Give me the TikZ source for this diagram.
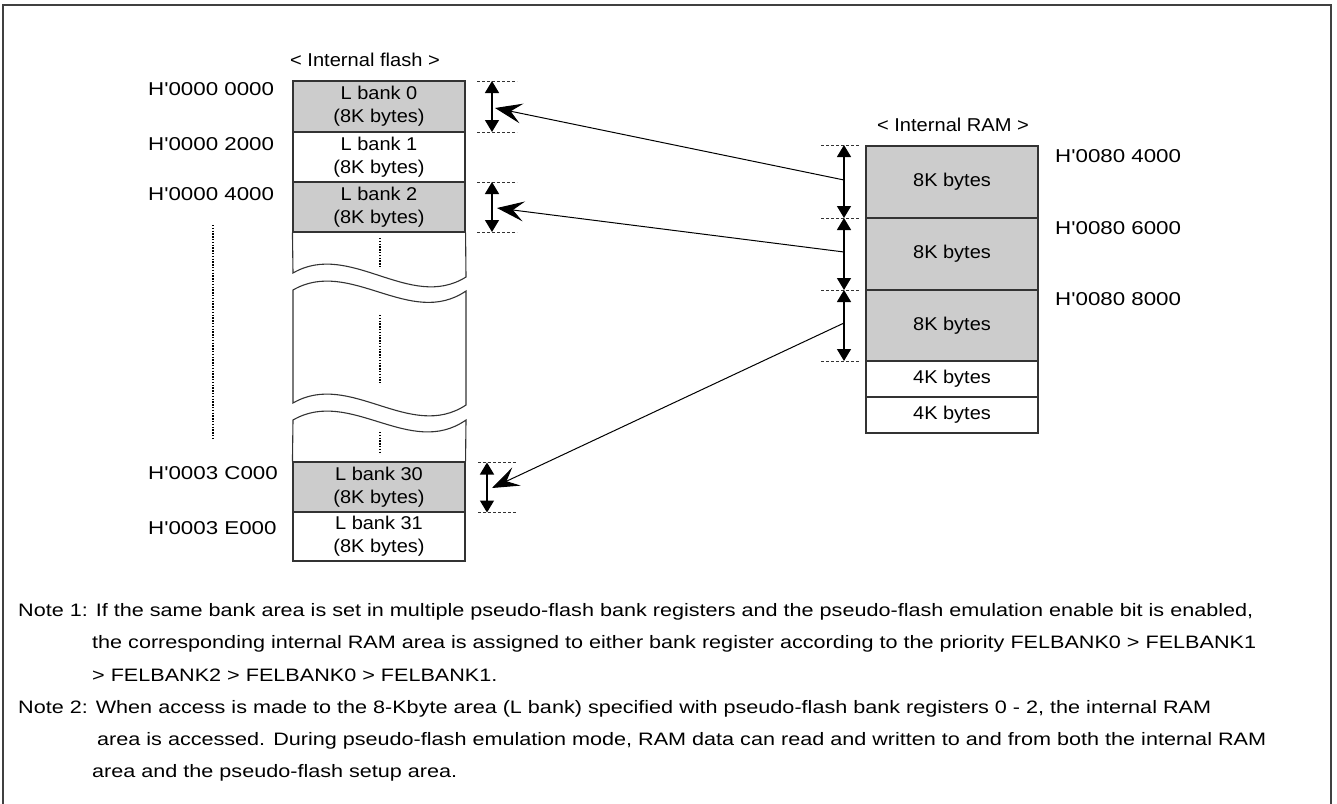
\documentclass[tikz,border=0pt]{standalone}
\usepackage{fontspec}
\setmainfont{Liberation Sans}
\newfontfamily\addrfont[FakeStretch=1.2]{Liberation Sans}
\newfontfamily\cellfont[FakeStretch=1.08]{Liberation Sans}
\usetikzlibrary{arrows.meta}
\definecolor{bankgray}{HTML}{CCCCCC}
\definecolor{edge}{HTML}{333333}

\begin{document}
\begin{tikzpicture}[x=1pt,y=-1pt,
  cell/.style={draw=edge, line width=1.1pt, minimum width=172pt, inner sep=0pt,
    align=center, font=\cellfont\fontsize{18.5}{23}\selectfont},
  flashcell/.style={cell, minimum height=50pt},
  addr/.style={anchor=base west, inner sep=0pt, font=\addrfont\fontsize{18.6}{22}\selectfont},
  header/.style={inner sep=0pt, font=\cellfont\fontsize{18.6}{22}\selectfont},
  note/.style={anchor=base west, inner sep=0pt, font=\addrfont\fontsize{18}{22}\selectfont},
  dimdash/.style={draw=edge, line width=0.9pt, dash pattern=on 3pt off 2pt},
  dimarrow/.style={line width=1.3pt,
    {Triangle[length=12pt,width=14pt]}-{Triangle[length=12pt,width=14pt]}},
  maparrow/.style={line width=1pt, -{Stealth[length=27pt,width=20pt,inset=11pt]}},
  gapdots/.style={line width=1.6pt, dash pattern=on 1.4pt off 1.4pt},
  wave/.style={draw=edge, line width=1.1pt}
]
\useasboundingbox (0,0) rectangle (1337,803);

% outer frame
\draw[line width=1.6pt, draw=black!75] (3,5) rectangle (1331,815);

% ---------------- internal flash ----------------
\node[header] (flashhead) at (365,60) {< Internal flash >};

\node[flashcell, fill=bankgray, minimum height=51pt] (lb0) at (379,106.5) {L bank 0\\(8K bytes)};
\node[flashcell] (lb1) at (379,157) {L bank 1\\(8K bytes)};
\node[flashcell, fill=bankgray] (lb2) at (379,207) {L bank 2\\(8K bytes)};
\node[flashcell, fill=bankgray] (lb30) at (379,487) {L bank 30\\(8K bytes)};
\node[flashcell, minimum height=49pt] (lb31) at (379,536.5) {L bank 31\\(8K bytes)};

% broken middle part of the flash map
\draw[wave] (lb2.south west) -- (293,273) .. controls (350,240) and (410,312) .. (466,277) -- (lb2.south east);
\draw[wave] (293,290) .. controls (350,257) and (410,329) .. (466,291) -- (466,405)
  .. controls (410,442) and (350,370) .. (293,403) -- cycle;
\draw[wave] (lb30.north west) -- (293,420) .. controls (350,387) and (410,459) .. (466,420) -- (lb30.north east);

\draw[gapdots] (380,238) -- (380,267);
\draw[gapdots] (380,315) -- (380,383);
\draw[gapdots] (380,432) -- (380,453);
\draw[gapdots] (213,225) -- (213,440);

% flash addresses
\node[addr] (a0) at (148,95) {H'0000 0000};
\node[addr] (a1) at (148,150) {H'0000 2000};
\node[addr] (a2) at (148,200) {H'0000 4000};
\node[addr] (a30) at (148,479) {H'0003 C000};
\node[addr] (a31) at (148,534) {H'0003 E000};

% flash bank extents
\draw[dimdash] (477,81) -- (517,81);
\draw[dimdash] (477,132) -- (517,132);
\draw[dimdash] (477,182) -- (517,182);
\draw[dimdash] (477,232) -- (517,232);
\draw[dimdash] (478,462.5) -- (517,462.5);
\draw[dimdash] (478,512.5) -- (517,512.5);
\coordinate (d0t) at (492,81);   \coordinate (d0b) at (492,132);
\coordinate (d2t) at (492,182);  \coordinate (d2b) at (492,232);
\coordinate (d30t) at (487,462.5); \coordinate (d30b) at (487,512.5);
\draw[dimarrow] (d0t) -- (d0b);
\draw[dimarrow] (d2t) -- (d2b);
\draw[dimarrow] (d30t) -- (d30b);

% ---------------- internal RAM ----------------
\node[header] (ramhead) at (953,125) {< Internal RAM >};

\node[cell, fill=bankgray, minimum height=72pt] (r0) at (952,182) {8K bytes};
\node[cell, fill=bankgray, minimum height=72pt] (r1) at (952,254) {8K bytes};
\node[cell, fill=bankgray, minimum height=71pt] (r2) at (952,325.5) {8K bytes};
\node[cell, minimum height=36pt] (r3) at (952,379) {4K bytes};
\node[cell, minimum height=36pt] (r4) at (952,415) {4K bytes};

\node[addr] (ra0) at (1055,162) {H'0080 4000};
\node[addr] (ra1) at (1055,234) {H'0080 6000};
\node[addr] (ra2) at (1055,305) {H'0080 8000};

% RAM area extents
\draw[dimdash] (821,145) -- (860,145);
\draw[dimdash] (821,218) -- (860,218);
\draw[dimdash] (821,290) -- (860,290);
\draw[dimdash] (821,361) -- (860,361);
\coordinate (e0) at (844,145);
\coordinate (e1) at (844,218);
\coordinate (e2) at (844,290);
\coordinate (e3) at (844,361);
\draw[dimarrow] (e0) -- (e1);
\draw[dimarrow] (e1) -- (e2);
\draw[dimarrow] (e2) -- (e3);

% RAM area -> L bank assignment
\coordinate (s0) at (844,180);  \coordinate (t0) at (495,108);
\coordinate (s1) at (844,252);  \coordinate (t1) at (497,208);
\coordinate (s2) at (844,323);  \coordinate (t2) at (492,488);
\draw[maparrow] (s0) -- (t0);
\draw[maparrow] (s1) -- (t1);
\draw[maparrow] (s2) -- (t2);

% ---------------- notes ----------------
\node[note] (n1a) at (18,616) {Note 1: If the same bank area is set in multiple pseudo-flash bank registers and the pseudo-flash emulation enable bit is enabled,};
\node[note] (n1b) at (92,648) {the corresponding internal RAM area is assigned to either bank register according to the priority FELBANK0 > FELBANK1};
\node[note] (n1c) at (92,681) {> FELBANK2 > FELBANK0 > FELBANK1.};
\node[note] (n2a) at (18,713) {Note 2: When access is made to the 8-Kbyte area (L bank) specified with pseudo-flash bank registers 0 - 2, the internal RAM};
\node[note] (n2b) at (97,745) {area is accessed. During pseudo-flash emulation mode, RAM data can read and written to and from both the internal RAM};
\node[note] (n2c) at (92,777) {area and the pseudo-flash setup area.};
\end{tikzpicture}
\end{document}
